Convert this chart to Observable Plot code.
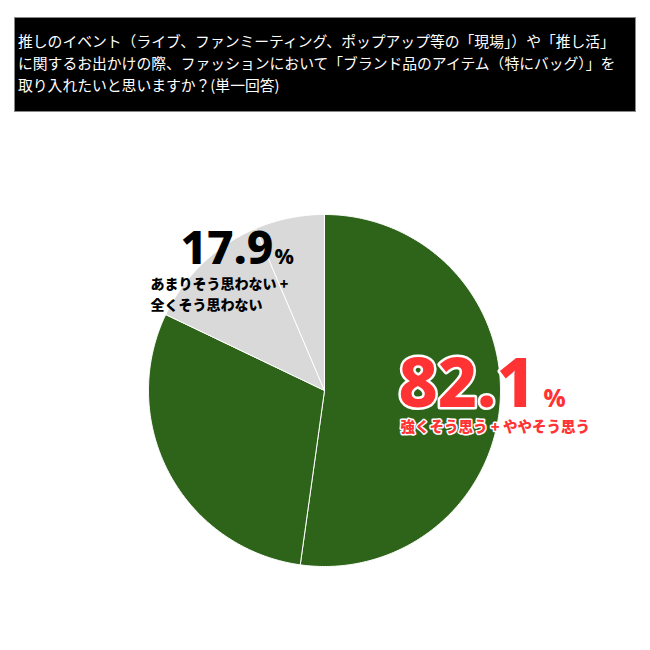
<!DOCTYPE html>
<html>
<head>
<meta charset="utf-8">
<script src="https://cdn.jsdelivr.net/npm/d3@7"></script>
<script src="https://cdn.jsdelivr.net/npm/@observablehq/plot@0.6"></script>
<style>
  html, body { margin: 0; padding: 0; background: #fff; }
  #wrap { position: relative; width: 650px; height: 650px; }
  #title {
    position: absolute; left: 14px; top: 17px; width: 622px; height: 95px;
    box-sizing: border-box; background: #000; color: #fff; border: 1px solid #888;
    font-family: "Noto Sans CJK JP", sans-serif; font-size: 14.8px;
    line-height: 22px; padding: 12px 0 0 3px; white-space: nowrap;
  }
  #chart { position: absolute; left: 0; top: 120px; }
</style>
</head>
<body>
<div id="wrap">
  <div id="title"></div>
  <div id="chart"></div>
</div>
<script>
const titleLines = [
  "推しのイベント（ライブ、ファンミーティング、ポップアップ等の「現場」）や「推し活」",
  "に関するお出かけの際、ファッションにおいて「ブランド品のアイテム（特にバッグ）」を",
  "取り入れたいと思いますか？(単一回答)"
];
const categories = ["強くそう思う", "ややそう思う", "あまりそう思わない", "全くそう思わない"];
const values = [52.2, 29.9, 11.5, 6.4];
const colors = ["#2e6419", "#2e6419", "#d9d9d9", "#d9d9d9"];
const agreeTotal = "82.1";
const agreeLabel = "強くそう思う + ややそう思う";
const disagreeTotal = "17.9";
const disagreeLabel1 = "あまりそう思わない +";
const disagreeLabel2 = "全くそう思わない";

document.getElementById("title").innerHTML = titleLines.join("<br>");

// build slice outlines from d3.pie angles
const arcs = d3.pie().sort(null).value(d => d.value)(categories.map((c, i) => ({cat: c, value: values[i]})));
const pts = [];
for (const a of arcs) {
  pts.push({cat: a.data.cat, x: 0, y: 0});
  const n = Math.max(2, Math.ceil((a.endAngle - a.startAngle) / 0.01));
  for (let k = 0; k <= n; k++) {
    const t = a.startAngle + (a.endAngle - a.startAngle) * k / n;
    pts.push({cat: a.data.cat, x: Math.sin(t), y: -Math.cos(t)});
  }
  pts.push({cat: a.data.cat, x: 0, y: 0});
}

const cx = 324, cy = 270, r = 176;
const numFont = "'Noto Sans', 'DejaVu Sans', sans-serif";
const jpFont = "'Noto Sans CJK JP', sans-serif";

const chart = Plot.plot({
  width: 650, height: 530, margin: 0,
  x: {domain: [-1, 1], range: [cx - r, cx + r], axis: null},
  y: {domain: [-1, 1], range: [cy - r, cy + r], axis: null},
  color: {domain: categories, range: colors},
  marks: [
    Plot.line(pts, {x: "x", y: "y", z: "cat", fill: "cat", stroke: "white", strokeWidth: 1, strokeLinejoin: "round", curve: "linear"}),
    Plot.text([agreeTotal], {text: d => d, frameAnchor: "top-left", dx: 398, dy: 286, textAnchor: "start", lineAnchor: "bottom",
      fontSize: 68, fontWeight: 800, fontFamily: numFont, fill: "#ff3333", stroke: "white", strokeWidth: 5}),
    Plot.text(["%"], {text: d => d, frameAnchor: "top-left", dx: 543, dy: 286, textAnchor: "start", lineAnchor: "bottom",
      fontSize: 24, fontWeight: 800, fontFamily: numFont, fill: "#ff3333", stroke: "white", strokeWidth: 3}),
    Plot.text([agreeLabel], {text: d => d, frameAnchor: "top-left", dx: 400, dy: 307, textAnchor: "start", lineAnchor: "middle",
      fontSize: 14.5, fontWeight: 900, fontFamily: jpFont, fill: "#ff3333", stroke: "white", strokeWidth: 3}),
    Plot.text([disagreeTotal], {text: d => d, frameAnchor: "top-left", dx: 180, dy: 143, textAnchor: "start", lineAnchor: "bottom",
      fontSize: 46, fontWeight: 800, fontFamily: numFont, fill: "#000"}),
    Plot.text(["%"], {text: d => d, frameAnchor: "top-left", dx: 274, dy: 143, textAnchor: "start", lineAnchor: "bottom",
      fontSize: 21, fontWeight: 800, fontFamily: numFont, fill: "#000"}),
    Plot.text([disagreeLabel1], {text: d => d, frameAnchor: "top-left", dx: 150, dy: 164, textAnchor: "start", lineAnchor: "middle",
      fontSize: 14, fontWeight: 900, fontFamily: jpFont, fill: "#000"}),
    Plot.text([disagreeLabel2], {text: d => d, frameAnchor: "top-left", dx: 150, dy: 185, textAnchor: "start", lineAnchor: "middle",
      fontSize: 14, fontWeight: 900, fontFamily: jpFont, fill: "#000"})
  ]
});
document.getElementById("chart").appendChild(chart);
</script>
</body>
</html>
